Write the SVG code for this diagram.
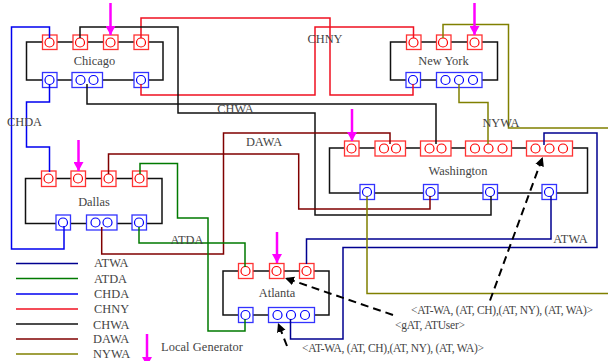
<svg xmlns="http://www.w3.org/2000/svg" width="608" height="361" viewBox="0 0 608 361">
<style>
text{font-family:"Liberation Serif","Times New Roman",serif;font-size:12.4px;fill:#444}
.s{font-size:11.5px}
.m{text-anchor:middle}
.ring{fill:none;stroke:#111;stroke-width:1.5}
.r,.b{fill:#fff;stroke-width:1.3}
.r{stroke:#f33}.b{stroke:#33f}
.rc,.bc{fill:none;stroke-width:1.2}
.rc{stroke:#f00}.bc{stroke:#00f}
.c{fill:none;stroke-width:1.5}
.atwa{stroke:#000090}.atda{stroke:#007a00}.chda{stroke:#0000f0}.chny{stroke:#f01020}.chwa{stroke:#111}.dawa{stroke:#800000}.nywa{stroke:#808000}
.gen{stroke:#f0f;stroke-width:2.5;fill:none;marker-end:url(#mh)}
.dash{stroke:#000;stroke-width:2;stroke-dasharray:8 5;fill:none;marker-end:url(#dh)}
</style>
<defs>
<marker id="mh" markerUnits="userSpaceOnUse" markerWidth="10" markerHeight="10" refX="9" refY="5" orient="auto"><path d="M0,0L9,5L0,10z" fill="#f0f"/></marker>
<marker id="dh" markerUnits="userSpaceOnUse" markerWidth="10" markerHeight="10" refX="9" refY="4.5" orient="auto"><path d="M0,0L9,4.5L0,9z" fill="#000"/></marker>
</defs>
<g id="chicago">
<rect class="ring" x="26.5" y="42" width="136.5" height="38"/>
<rect class="r" x="42.5" y="35" width="14.5" height="14.5"/><circle class="rc" cx="49.5" cy="42.5" r="4.5"/>
<rect class="r" x="73" y="35" width="14.5" height="14.5"/><circle class="rc" cx="80" cy="42.5" r="4.5"/>
<rect class="r" x="103.5" y="35" width="14.5" height="14.5"/><circle class="rc" cx="110.500" cy="42.5" r="4.5"/>
<rect class="r" x="134" y="35" width="14.5" height="14.5"/><circle class="rc" cx="141" cy="42.5" r="4.5"/>
<rect class="b" x="42.500" y="72.500" width="14.500" height="15"/><circle class="bc" cx="49.500" cy="80" r="4.500"/>
<rect class="b" x="72" y="72.500" width="30.500" height="15"/><circle class="bc" cx="80.500" cy="80" r="4.500"/><circle class="bc" cx="93.500" cy="80" r="4.500"/>
<rect class="b" x="134" y="72.500" width="14.500" height="15"/><circle class="bc" cx="141" cy="80" r="4.500"/>
<text class="m" x="94.500" y="65">Chicago</text>
</g>
<g id="newyork">
<rect class="ring" x="390.500" y="42" width="107" height="38"/>
<rect class="r" x="406.500" y="35" width="14.500" height="14.500"/><circle class="rc" cx="413.500" cy="42.500" r="4.500"/>
<rect class="r" x="436.500" y="35" width="14.500" height="14.500"/><circle class="rc" cx="443" cy="42.500" r="4.500"/>
<rect class="r" x="467.500" y="35" width="14.500" height="14.500"/><circle class="rc" cx="474.500" cy="42.500" r="4.500"/>
<rect class="b" x="406" y="72.500" width="14.500" height="15"/><circle class="bc" cx="413" cy="80" r="4.500"/>
<rect class="b" x="436.500" y="72.500" width="45.500" height="15"/><circle class="bc" cx="445.500" cy="80" r="4.500"/><circle class="bc" cx="459" cy="80" r="4.500"/><circle class="bc" cx="473" cy="80" r="4.500"/>
<text class="m" x="443.500" y="65">New York</text>
</g>
<g id="washington">
<rect class="ring" x="329.500" y="148" width="258" height="45"/>
<rect class="r" x="344.500" y="141" width="14.500" height="15"/><circle class="rc" cx="351.500" cy="148.500" r="4.500"/>
<rect class="r" x="375" y="141" width="30.500" height="15"/><circle class="rc" cx="384" cy="148.500" r="4.500"/><circle class="rc" cx="396" cy="148.500" r="4.500"/>
<rect class="r" x="420.500" y="141" width="30.500" height="15"/><circle class="rc" cx="429.500" cy="148.500" r="4.500"/><circle class="rc" cx="441.500" cy="148.500" r="4.500"/>
<rect class="r" x="465.500" y="141" width="46" height="15"/><circle class="rc" cx="475" cy="148.500" r="4.500"/><circle class="rc" cx="488.500" cy="148.500" r="4.500"/><circle class="rc" cx="502.500" cy="148.500" r="4.500"/>
<rect class="r" x="526.500" y="141" width="46" height="15"/><circle class="rc" cx="535.500" cy="148.500" r="4.500"/><circle class="rc" cx="549.500" cy="148.500" r="4.500"/><circle class="rc" cx="563" cy="148.500" r="4.500"/>
<rect class="b" x="360" y="184.500" width="14.500" height="15"/><circle class="bc" cx="367" cy="192" r="4.500"/>
<rect class="b" x="423.500" y="184.500" width="14.500" height="15"/><circle class="bc" cx="430.500" cy="192" r="4.500"/>
<rect class="b" x="483" y="184.500" width="14.500" height="15"/><circle class="bc" cx="490" cy="192" r="4.500"/>
<rect class="b" x="542" y="184.500" width="14.500" height="15"/><circle class="bc" cx="549" cy="192" r="4.500"/>
<text class="m" x="458" y="175">Washington</text>
</g>
<g id="dallas">
<rect class="ring" x="25.500" y="178.500" width="136.500" height="45"/>
<rect class="r" x="41.500" y="171" width="14.500" height="15.500"/><circle class="rc" cx="48.500" cy="178.500" r="4.500"/>
<rect class="r" x="71" y="171" width="14.500" height="15.500"/><circle class="rc" cx="78" cy="178.500" r="4.500"/>
<rect class="r" x="101.500" y="171" width="14.500" height="15.500"/><circle class="rc" cx="108.500" cy="178.500" r="4.500"/>
<rect class="r" x="132.500" y="171" width="14.500" height="15.500"/><circle class="rc" cx="139.500" cy="178.500" r="4.500"/>
<rect class="b" x="56" y="215" width="14.500" height="15"/><circle class="bc" cx="63" cy="222.500" r="4.500"/>
<rect class="b" x="86.500" y="215" width="30.500" height="15"/><circle class="bc" cx="95.500" cy="222.500" r="4.500"/><circle class="bc" cx="107.500" cy="222.500" r="4.500"/>
<rect class="b" x="132" y="215" width="14.500" height="15"/><circle class="bc" cx="139" cy="222.500" r="4.500"/>
<text class="m" x="94" y="205.500">Dallas</text>
</g>
<g id="atlanta">
<rect class="ring" x="223" y="271" width="106" height="44"/>
<rect class="r" x="238.500" y="263.500" width="14.500" height="15"/><circle class="rc" cx="245.500" cy="271" r="4.500"/>
<rect class="r" x="269.500" y="263.500" width="14.500" height="15"/><circle class="rc" cx="276.500" cy="271" r="4.500"/>
<rect class="r" x="299.500" y="263.500" width="14.500" height="15"/><circle class="rc" cx="306.500" cy="271" r="4.500"/>
<rect class="b" x="238.500" y="307.500" width="14.500" height="15"/><circle class="bc" cx="245.500" cy="315" r="4.500"/>
<rect class="b" x="268.500" y="307.500" width="46" height="15"/><circle class="bc" cx="277.500" cy="315" r="4.500"/><circle class="bc" cx="291" cy="315" r="4.500"/><circle class="bc" cx="305" cy="315" r="4.500"/>
<text class="m" x="277" y="296.500">Atlanta</text>
</g>
<g id="connectors">
<path class="c chda" d="M49.500,38V27H11.500V249H64V226"/>
<path class="c chda" d="M49.500,84V102H26.500V147H49.500V172"/>
<path class="c chny" d="M141,38V18H330V95H413V84"/>
<path class="c chny" d="M141,84V95H315V27H413.500V38"/>
<path class="c chwa" d="M80,38V27H178V113H315V215H491V196"/>
<path class="c chwa" d="M87,84V104H436V144"/>
<path class="c dawa" d="M108.500,174V154H298.700V209H430V196"/>
<path class="c dawa" d="M101.700,227V254H223.500V133H390V144"/>
<path class="c atda" d="M140,174V163.500H177.500V218H208V331H245V319"/>
<path class="c atda" d="M139,227V243H245V267"/>
<path class="c atwa" d="M306.500,264V239H551V196"/>
<path class="c atwa" d="M290.500,319V339H343V247.500H597V133H544V145"/>
<path class="c nywa" d="M443,38V24.500H508.500V128H608"/>
<path class="c nywa" d="M459,84V102.500H488V144"/>
<path class="c nywa" d="M367,196V293.500H608"/>
</g>
<g id="generators">
<path class="gen" d="M110.500,3V35"/>
<path class="gen" d="M474.500,3V35"/>
<path class="gen" d="M352,109V141"/>
<path class="gen" d="M78.500,140V171"/>
<path class="gen" d="M277,232V263"/>
<path class="gen" d="M147,334V366"/>
</g>
<g id="tokens">
<path class="dash" d="M490,300.500L542.700,157"/>
<path class="dash" d="M393,315L285,278"/>
<path class="dash" d="M287,346L278,323"/>
</g>
<g id="labels">
<text class="m" x="325" y="43">CHNY</text>
<text class="m" x="235.500" y="113">CHWA</text>
<text class="m" x="264" y="146">DAWA</text>
<text class="m" x="24.500" y="126">CHDA</text>
<text class="m" x="501" y="127">NYWA</text>
<text class="m" x="187" y="244">ATDA</text>
<text class="m" x="570.500" y="243">ATWA</text>
<text class="s" x="411" y="314" textLength="182">&lt;AT-WA, (AT, CH),(AT, NY), (AT, WA)&gt;</text>
<text class="s" x="395" y="329" textLength="70">&lt;gAT, ATUser&gt;</text>
<text class="s" x="302" y="352" textLength="182">&lt;AT-WA, (AT, CH),(AT, NY), (AT, WA)&gt;</text>
</g>
<g id="legend">
<path class="c atwa" d="M16,263.500H78"/>
<path class="c atda" d="M16,278.500H78"/>
<path class="c chda" d="M16,294H78"/>
<path class="c chny" d="M16,309H78"/>
<path class="c chwa" d="M16,324H78"/>
<path class="c dawa" d="M16,339H78"/>
<path class="c nywa" d="M16,354H78"/>
<text x="94" y="267">ATWA</text>
<text x="94" y="283">ATDA</text>
<text x="94" y="298">CHDA</text>
<text x="94" y="313">CHNY</text>
<text x="93" y="329">CHWA</text>
<text x="93" y="343">DAWA</text>
<text x="93" y="358">NYWA</text>
<text x="161" y="351" textLength="82">Local Generator</text>
</g>
</svg>
